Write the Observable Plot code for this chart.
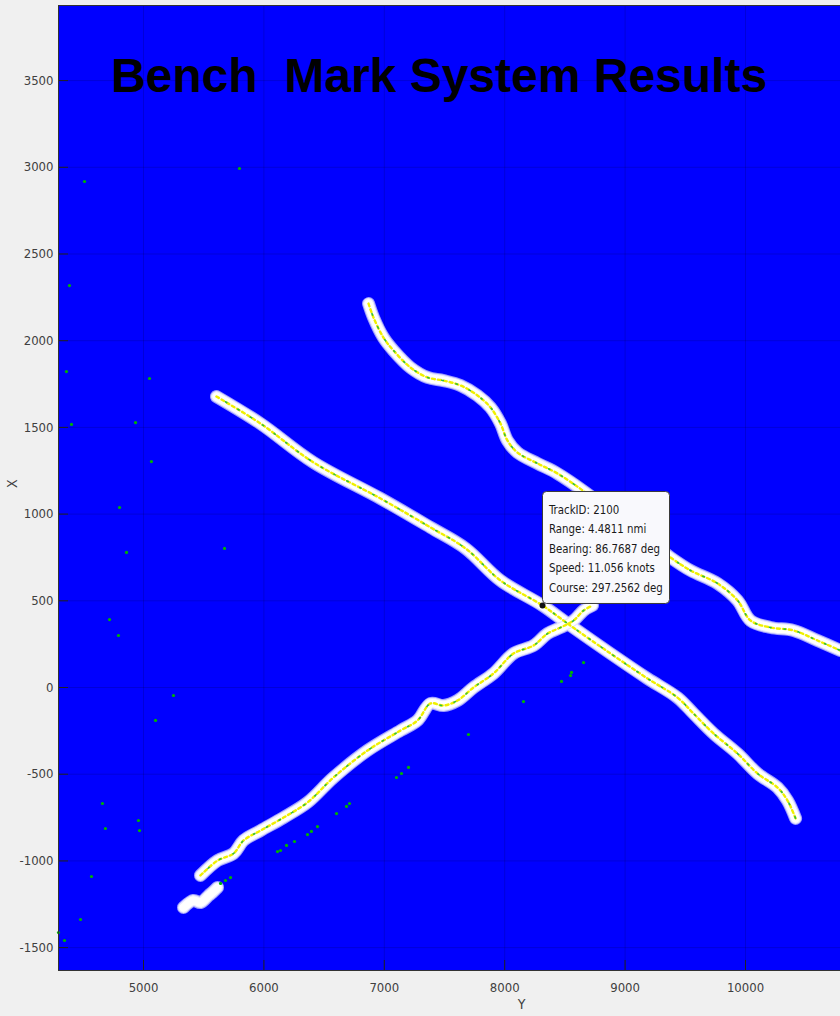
<!DOCTYPE html>
<html>
<head>
<meta charset="utf-8">
<script src="https://cdn.jsdelivr.net/npm/d3@7"></script>
<script src="https://cdn.jsdelivr.net/npm/@observablehq/plot@0.6"></script>
<style>
  html, body { margin: 0; padding: 0; background: #f0f0f0; overflow: hidden; }
  #chart svg { display: block; }
</style>
</head>
<body>
<div id="chart"></div>
<script>
// ---- data ----
const titleText = "Bench  Mark System Results";
const xLabel = "Y";
const yLabel = "X";
const xTicks = [5000, 6000, 7000, 8000, 9000, 10000];
const yTicks = [-1500, -1000, -500, 0, 500, 1000, 1500, 2000, 2500, 3000, 3500];

// Track A: long diagonal, upper-left to lower-right
const trackAX = [5606, 5972, 6412, 6969, 7384, 7675, 7965, 8314, 8522, 8879, 9186, 9435, 9568, 9734, 9934, 10100, 10266, 10349, 10416];
const trackAY = [1678, 1522, 1298, 1090, 923, 802, 617, 473, 369, 196, 52, -58, -150, -265, -381, -496, -577, -652, -755];

// Track B: upper curved track
const trackBX = [6869, 6910, 6993, 7077, 7218, 7359, 7492, 7633, 7774, 7882, 7965, 8023, 8106, 8273, 8439, 8671, 8920, 9170, 9377, 9543, 9768, 9934, 10042, 10208, 10399, 10598, 10789];
const trackBY = [2214, 2134, 2018, 1943, 1845, 1788, 1770, 1742, 1684, 1615, 1522, 1424, 1355, 1292, 1234, 1125, 992, 859, 750, 675, 600, 502, 386, 346, 329, 271, 213];

// Track C: lower track heading up-right
const trackCX = [5473, 5615, 5748, 5831, 5972, 6163, 6362, 6578, 6861, 7135, 7276, 7384, 7492, 7608, 7741, 7907, 8073, 8239, 8356, 8464, 8572, 8655, 8729];
const trackCY = [-1084, -998, -957, -882, -825, -750, -663, -519, -363, -248, -190, -92, -104, -75, 0, 81, 196, 242, 311, 346, 386, 444, 473];

// Track D: short lower segment
const trackDX = [5332, 5415, 5473, 5540, 5581, 5615];
const trackDY = [-1269, -1228, -1240, -1200, -1176, -1153];

// Scattered green detections
const greenX = [4510, 5797, 4385, 4360, 5050, 4402, 4934, 5066, 4801, 4859, 5673, 4718, 4792, 5249, 5100, 4659, 4684, 4958, 4967, 4568, 4477, 4294, 4344, 5723, 5640, 5681, 6113, 6138, 6188, 6254, 6362, 6395, 6445, 6603, 6686, 6711, 7101, 7143, 7201, 7699, 8156, 8472, 8547, 8555, 8655];
const greenY = [2918, 2993, 2318, 1822, 1782, 1517, 1528, 1303, 1038, 779, 802, 392, 300, -46, -190, -669, -813, -767, -825, -1090, -1338, -1413, -1459, -1096, -1130, -1113, -946, -940, -911, -888, -848, -830, -802, -727, -686, -669, -519, -496, -461, -271, -81, 35, 69, 87, 144];

// Data tip
const tipX = [8314];
const tipY = [473];
const tipLines = ["TrackID: 2100", "Range: 4.4811 nmi", "Bearing: 86.7687 deg", "Speed: 11.056 knots", "Course: 297.2562 deg"];

// ---- build tables ----
const zip = (xs, ys) => xs.map((x, i) => ({x, y: ys[i]}));
const tracks = [zip(trackAX, trackAY), zip(trackBX, trackBY), zip(trackCX, trackCY), zip(trackDX, trackDY)];
const green = zip(greenX, greenY);
const tip = zip(tipX, tipY);

const W = 840, H = 1016, mL = 58, mR = 0, mT = 5, mB = 46;
const frameW = W - mL - mR, frameH = H - mT - mB;

const lineOpts = {x: "x", y: "y", curve: "catmull-rom", strokeLinecap: "round", strokeLinejoin: "round"};
const trackMarks = [];
for (const t of tracks) {
  trackMarks.push(Plot.line(t, {...lineOpts, stroke: "#9c9cff", strokeWidth: 13}));
}
for (const t of tracks) {
  trackMarks.push(Plot.line(t, {...lineOpts, stroke: "#e6e6ff", strokeWidth: 11}));
  trackMarks.push(Plot.line(t, {...lineOpts, stroke: "#ffffff", strokeWidth: 8.5}));
}
tracks.slice(0, 3).forEach((t) => {
  trackMarks.push(Plot.line(t, {x: "x", y: "y", curve: "catmull-rom", stroke: "#f0f000", strokeWidth: 2.4, strokeDasharray: "3 3"}));
  trackMarks.push(Plot.line(t, {x: "x", y: "y", curve: "catmull-rom", stroke: "#2fbf3f", strokeWidth: 1.6, strokeDasharray: "1.5 13", strokeDashoffset: 4}));
});

const plot = Plot.plot({
  width: W, height: H,
  marginLeft: mL, marginRight: mR, marginTop: mT, marginBottom: mB,
  style: {background: "#f0f0f0", fontFamily: "'DejaVu Sans Condensed', 'DejaVu Sans', sans-serif", fontSize: "13px", color: "#404040", overflow: "visible"},
  x: {domain: [4294, 10789]},
  y: {domain: [-1632, 3933]},
  marks: [
    Plot.frame({fill: "#0000ff", stroke: null}),
    Plot.gridX(xTicks, {stroke: "#000", strokeOpacity: 0.15}),
    Plot.gridY(yTicks, {stroke: "#000", strokeOpacity: 0.15}),
    ...trackMarks,
    Plot.dot(green, {x: "x", y: "y", r: 1.6, fill: "#00b400", stroke: null}),
    Plot.dot(tip, {x: "x", y: "y", r: 3, fill: "#111", stroke: null}),
    Plot.tickY(yTicks, {y: d => d, insetRight: frameW - 10, stroke: "#222", strokeWidth: 1}),
    Plot.tickX(xTicks, {x: d => d, insetTop: frameH - 10, stroke: "#222", strokeWidth: 1}),
    Plot.frame({stroke: "#333", strokeWidth: 1, insetRight: -3}),
    Plot.axisX(xTicks, {tickSize: 0, tickPadding: 12, label: null, fill: "#404040", tickFormat: d => String(d)}),
    Plot.axisY(yTicks, {tickSize: 0, tickPadding: 5, label: null, fill: "#404040", tickFormat: d => String(d)}),
    Plot.text([xLabel], {frameAnchor: "bottom", dx: 72, dy: 38, fontSize: 14, fill: "#404040"}),
    Plot.text([yLabel], {frameAnchor: "left", dx: -46, rotate: -90, fontSize: 14, fill: "#404040"}),
    Plot.text([titleText], {frameAnchor: "top", dx: -10.5, dy: 86, lineAnchor: "bottom", fontSize: 48, fontWeight: "bold", fontFamily: "'Liberation Sans', Arial, sans-serif", fill: "#000"})
  ]
});

document.getElementById("chart").appendChild(plot);

// ---- data tip box (positioned with the plot's own scales) ----
const sx = plot.scale("x"), sy = plot.scale("y");
const px = sx.apply(tipX[0]), py = sy.apply(tipY[0]);
const svg = d3.select(plot);
const g = svg.append("g").attr("class", "datatip").attr("text-anchor", "start");
const boxW = 127, boxH = 112;
g.append("rect")
  .attr("x", px + 0.5).attr("y", py - 2 - boxH + 0.5)
  .attr("width", boxW).attr("height", boxH)
  .attr("rx", 4).attr("ry", 4)
  .attr("fill", "#f9f9fd").attr("stroke", "#3a3a3a").attr("stroke-width", 1);
tipLines.forEach((t, i) => {
  g.append("text")
    .attr("transform", `translate(${px + 7},${py - 2 - boxH + 23 + i * 19.5}) scale(0.91,1)`)
    .attr("text-anchor", "start")
    .attr("font-family", "'DejaVu Sans Condensed', 'DejaVu Sans', sans-serif")
    .attr("font-size", 12.5)
    .attr("fill", "#1a1a1a")
    .text(t);
});
</script>
</body>
</html>
